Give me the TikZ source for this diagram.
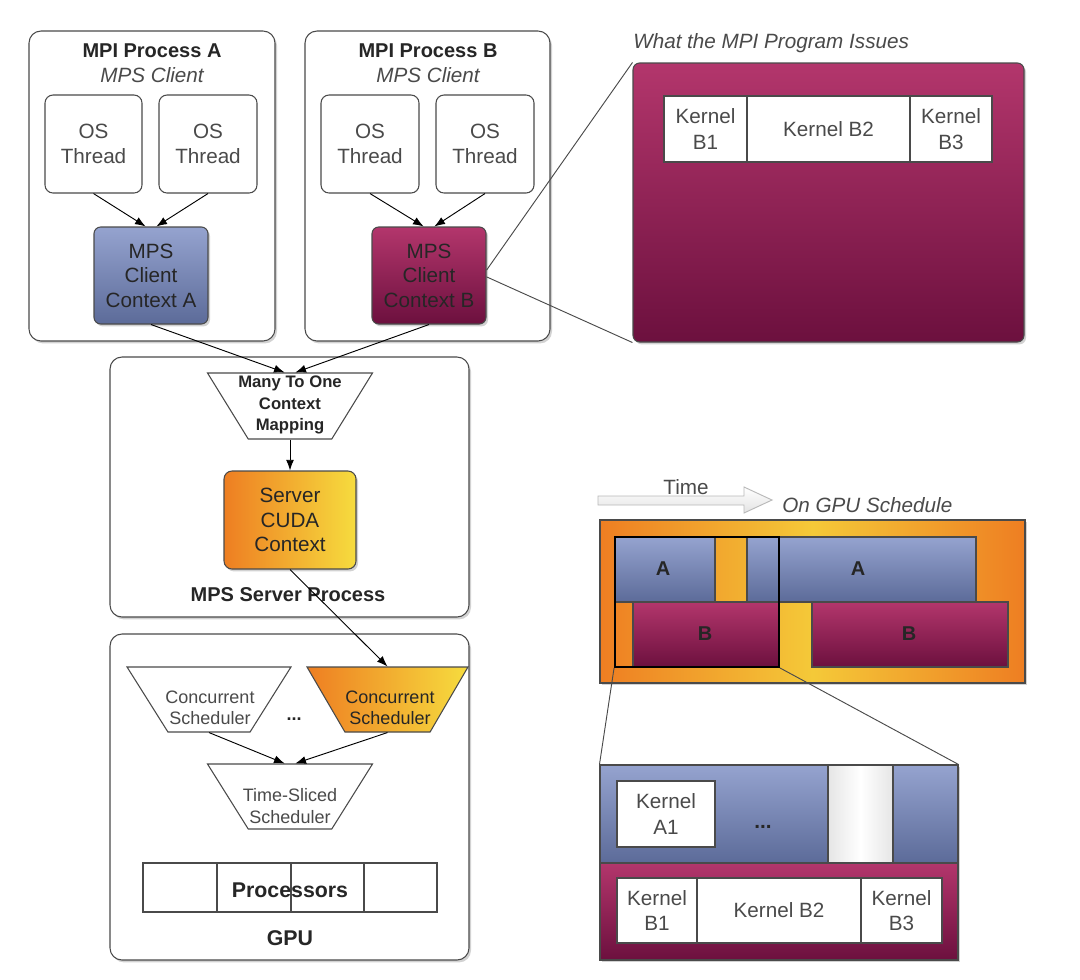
\documentclass[tikz,border=0pt]{standalone}
\usepackage{fontspec}
\setmainfont{Liberation Sans}
\usetikzlibrary{shapes.geometric,fit,arrows.meta,shadows}
\definecolor{bordc}{HTML}{4A4A4A}
\definecolor{bluetop}{HTML}{95A3CF}
\definecolor{bluebot}{HTML}{5C6B99}
\definecolor{magtop}{HTML}{B3366C}
\definecolor{magbot}{HTML}{6C103E}
\definecolor{orng}{HTML}{EE7E22}
\definecolor{yell}{HTML}{F6DC3E}
\definecolor{txt}{HTML}{262626}
\definecolor{gtxt}{HTML}{4A4A4A}
\newcommand\fReg{\fontsize{15.5}{19}\selectfont}
\newcommand\fCtx{\fontsize{15.5}{18.4}\selectfont}
\newcommand\fTtl{\fontsize{15}{18}\selectfont\bfseries}
\newcommand\fSml{\fontsize{13.5}{16}\selectfont}
\newcommand\fMap{\fontsize{12.5}{16}\selectfont\bfseries}
\newcommand\fPro{\fontsize{16}{19}\selectfont\bfseries}
\begin{document}
\begin{tikzpicture}[x=0.75pt,y=-0.75pt,
  bx/.style={draw=bordc, line width=0.8pt, inner sep=0pt},
  shd/.style={drop shadow={shadow xshift=1.5pt,shadow yshift=-1.8pt,opacity=0.35}},
  proc/.style={bx, fill=white, rounded corners=9pt, shd},
  thr/.style={bx, fill=white, rounded corners=6pt},
  ctxa/.style={bx, rounded corners=5pt, top color=bluetop, bottom color=bluebot, shd},
  ctxb/.style={bx, rounded corners=5pt, top color=magtop, bottom color=magbot, shd},
  cudabox/.style={bx, rounded corners=6pt, left color=orng, right color=yell, shd},
  trap/.style={bx, fill=white, trapezium, shape border rotate=180, trapezium stretches=true, inner sep=2pt},
  gt/.style={font=\fReg, text=gtxt, align=center, inner sep=0pt},
  dt/.style={font=\fCtx, text=txt, align=center, inner sep=0pt},
  ttl/.style={font=\fTtl, text=txt, inner sep=0pt},
  sub/.style={font=\fReg\itshape, text=gtxt, inner sep=0pt},
  cell/.style={bx, fill=white},
  kcell/.style={bx, fill=white},
  bluebk/.style={bx, top color=bluetop, bottom color=bluebot},
  magbk/.style={bx, top color=magtop, bottom color=magbot},
  arr/.style={draw=black, line width=0.7pt, -{Latex[length=8pt,width=6pt]}},
  lnk/.style={draw=bordc, line width=0.7pt},
  schlbl/.style={font=\fTtl, text=txt, inner sep=0pt}
]
\useasboundingbox (0,0) rectangle (1080,979);
\fill[white] (0,0) rectangle (1080,979);

% ---------------- MPI Process A
\node[proc, fit={(29,31)(275,341)}] (procA) {};
\node[ttl] (procAt) at (152,51) {MPI Process A};
\node[sub] (procAs) at (152,75) {MPS Client};
\node[thr, fit={(45,95)(142,193)}, label={[gt]center:{OS\\Thread}}] (thA1) {};
\node[thr, fit={(159,95)(257,193)}, label={[gt]center:{OS\\Thread}}] (thA2) {};
\node[ctxa, fit={(94,227)(208,324)}, label={[dt]center:{MPS\\Client\\Context A}}] (ctxA) {};

% ---------------- MPI Process B
\node[proc, fit={(305,31)(550,341)}] (procB) {};
\node[ttl] (procBt) at (428,51) {MPI Process B};
\node[sub] (procBs) at (428,75) {MPS Client};
\node[thr, fit={(321,95)(419,193)}, label={[gt]center:{OS\\Thread}}] (thB1) {};
\node[thr, fit={(436,95)(534,193)}, label={[gt]center:{OS\\Thread}}] (thB2) {};
\node[ctxb, fit={(372,227)(486,324)}, label={[dt]center:{MPS\\Client\\Context B}}] (ctxB) {};

% ---------------- MPS Server Process
\node[proc, fit={(110,357)(469,617)}] (srv) {};
\node[trap, trapezium left angle=64, trapezium right angle=64,
      minimum width=123.75pt, minimum height=49.5pt] (m2o) at (290,406) {};
\node[font=\fMap, text=txt, align=center, inner sep=0pt] (m2oT) at (290,405) {Many To One\\Context\\Mapping};
\node[cudabox, fit={(224,471)(356,569)}, label={[dt]center:{Server\\CUDA\\Context}}] (cuda) {};
\node[ttl] (srvT) at (288,595) {MPS Server Process};

% ---------------- GPU
\node[proc, fit={(110,634)(469,960)}] (gpu) {};
\node[trap, trapezium left angle=63.5, trapezium right angle=63.5,
      minimum width=123pt, minimum height=48.75pt] (cs1) at (209,699.5) {};
\node[font=\fSml, text=gtxt, align=center, inner sep=0pt] (cs1T) at (210,708) {Concurrent\\Scheduler};
\node[trap, left color=orng, right color=yell, trapezium left angle=66, trapezium right angle=66,
      minimum width=120.75pt, minimum height=48.75pt] (cs2) at (387.5,699.5) {};
\node[font=\fSml, text=txt, align=center, inner sep=0pt] (cs2T) at (390,708) {Concurrent\\Scheduler};
\node[font=\fSml\bfseries, text=txt, inner sep=0pt] (dots1) at (294,719) {...};
\node[trap, trapezium left angle=64, trapezium right angle=64,
      minimum width=123.75pt, minimum height=48.75pt] (ts) at (290,796.5) {};
\node[font=\fSml, text=gtxt, align=center, inner sep=0pt] (tsT) at (290,806) {Time-Sliced\\Scheduler};
\node[cell, fit={(143,863)(217,912)}] (p1) {};
\node[cell, fit={(217,863)(291,912)}] (p2) {};
\node[cell, fit={(291,863)(364,912)}] (p3) {};
\node[cell, fit={(364,863)(437,912)}] (p4) {};
\node[font=\fPro, text=txt, inner sep=0pt] (procT) at (290,890) {Processors};
\node[font=\fPro, text=txt, inner sep=0pt] (gpuT) at (290,938) {GPU};

% ---------------- What the MPI Program Issues
\node[sub, anchor=west] (issT) at (633,43) {What the MPI Program Issues};
\node[bx, rounded corners=5pt, top color=magtop, bottom color=magbot, shd, fit={(633,63)(1024,342)}] (iss) {};
\node[kcell, fit={(664,96)(747,162)}, label={[gt]center:{Kernel\\B1}}] (ik1) {};
\node[kcell, fit={(747,96)(910,162)}, label={[gt]center:{Kernel B2}}] (ik2) {};
\node[kcell, fit={(910,96)(992,162)}, label={[gt]center:{Kernel\\B3}}] (ik3) {};

% ---------------- Time arrow and schedule
\draw[draw=gray!55, line width=0.7pt, top color=white, bottom color=gray!22]
  (598,496) -- (744,496) -- (744,487) -- (772,500) -- (744,513) -- (744,505) -- (598,505) -- cycle;
\node[font=\fReg, text=gtxt, inner sep=0pt] (timeT) at (686,487) {Time};
\node[sub, anchor=west] (schT) at (782,505) {On GPU Schedule};

\node[bx, left color=orng, right color=orng, middle color=yell!80!orng, shd, fit={(600,520)(1025,683)}] (sch) {};
\node[bluebk, fit={(615,537)(715,602)}] (sa1) {};
\node[bluebk, fit={(747,537)(779,602)}] (sa2) {};
\node[bluebk, fit={(779,537)(976,602)}] (sa3) {};
\node[magbk, fit={(633,602)(779,667)}] (sb1) {};
\node[magbk, fit={(812,602)(1008,667)}] (sb2) {};
\node[schlbl] (sa1T) at (663,569) {A};
\node[schlbl] (sa3T) at (858,569) {A};
\node[schlbl] (sb1T) at (705,634) {B};
\node[schlbl] (sb2T) at (909,634) {B};
\node[draw=black, line width=1.4pt, inner sep=0pt, fit={(615,537)(779,667)}] (sel) {};

% ---------------- zoomed view
\node[bluebk, shd, fit={(600,765)(958,863)}] (zmA) {};
\node[bx, left color=gray!20, right color=gray!20, middle color=white, fit={(828,765)(893,863)}] (zmGap) {};
\node[magbk, shd, fit={(600,863)(958,960)}] (zmB) {};
\node[kcell, fit={(617,781)(715,847)}, label={[gt]center:{Kernel\\A1}}] (za1) {};
\node[font=\fReg\bfseries, text=txt, inner sep=0pt] (dots2) at (763,827) {...};
\node[kcell, fit={(617,878)(697,943)}, label={[gt]center:{Kernel\\B1}}] (zb1) {};
\node[kcell, fit={(697,878)(861,943)}, label={[gt]center:{Kernel B2}}] (zb2) {};
\node[kcell, fit={(861,878)(942,943)}, label={[gt]center:{Kernel\\B3}}] (zb3) {};

% ---------------- connectors
\draw[arr] (thA1.south) -- ([xshift=-4pt]ctxA.north);
\draw[arr] (thA2.south) -- ([xshift=4pt]ctxA.north);
\draw[arr] (thB1.south) -- ([xshift=-4pt]ctxB.north);
\draw[arr] (thB2.south) -- ([xshift=4pt]ctxB.north);
\draw[arr] (ctxA.south) -- ([xshift=-4pt]m2o.north);
\draw[arr] (ctxB.south) -- ([xshift=4pt]m2o.north);
\draw[arr] (m2o.south) -- (cuda.north);
\draw[arr] (cuda.south) -- (cs2.north);
\draw[arr] (cs1.south) -- ([xshift=-4pt]ts.north);
\draw[arr] (cs2.south) -- ([xshift=4pt]ts.north);

\draw[lnk] ([yshift=4pt]ctxB.east) -- (iss.north west);
\draw[lnk] ([yshift=-1pt]ctxB.east) -- (iss.south west);
\draw[lnk] (sel.south west) -- (zmA.north west);
\draw[lnk] (sel.south east) -- (zmA.north east);
\end{tikzpicture}
\end{document}
